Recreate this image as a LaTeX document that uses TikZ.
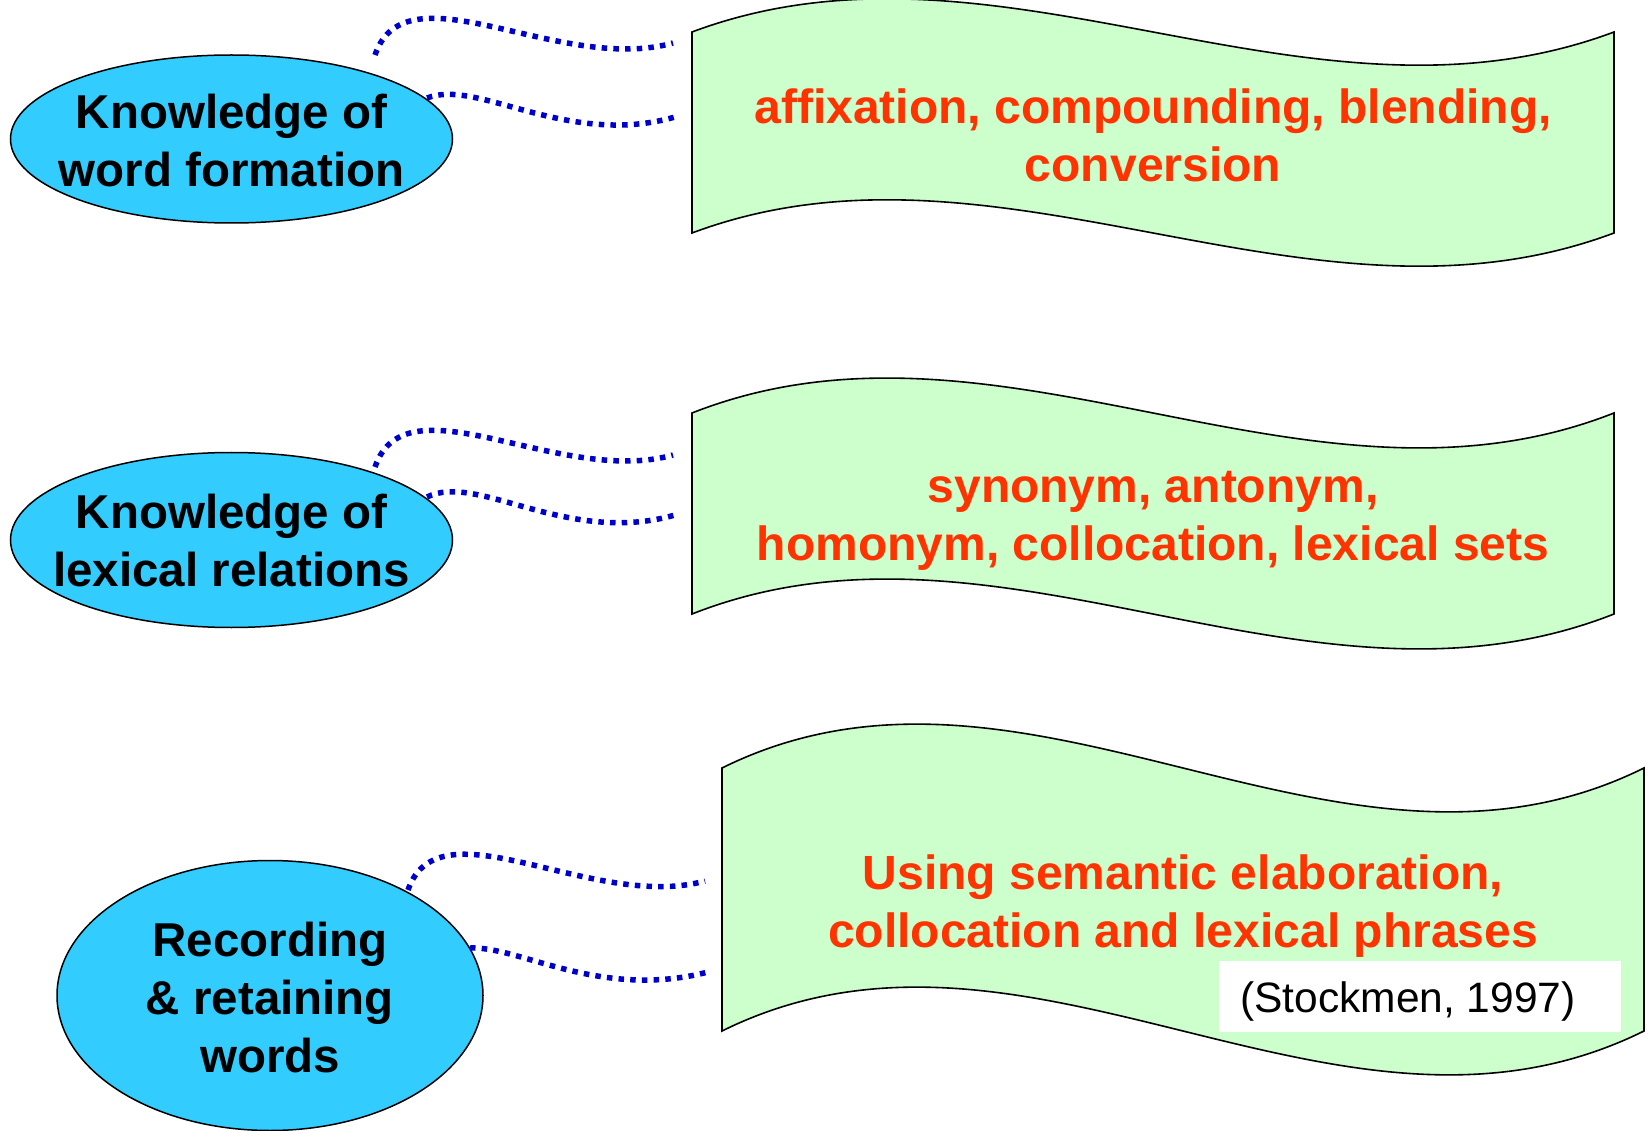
\documentclass[tikz,border=0pt]{standalone}
\usepackage{fontspec}
\setmainfont{Liberation Sans}
\usetikzlibrary{shapes.geometric}
\definecolor{ovalblue}{RGB}{51,204,255}
\definecolor{wavegreen}{RGB}{204,255,204}
\definecolor{redtext}{RGB}{255,51,0}
\definecolor{dotblue}{RGB}{0,0,204}
\tikzset{
  ovalbox/.style={ellipse, draw=black, line width=1.5pt, fill=ovalblue, inner sep=0pt},
  ovaltext/.style={align=center, inner sep=0pt, font=\fontsize{47.5}{58}\selectfont\bfseries},
  wavebox/.style={draw=black, line width=1.6pt, fill=wavegreen, line join=miter},
  wavetext/.style={align=center, inner sep=0pt, text=redtext, font=\fontsize{48}{58}\selectfont\bfseries},
  dotline/.style={draw=dotblue, line width=5.5pt, dash pattern=on 5.5pt off 6.2pt},
  citetext/.style={inner sep=0pt, font=\fontsize{42.5}{50}\selectfont}
}
\begin{document}
\begin{tikzpicture}[x=1pt,y=-1pt]
\useasboundingbox (0,0) rectangle (1650,1131);
% waves
\draw[wavebox] (692,32) .. controls (999.3,-83) and (1306.7,147) .. (1614,32)
  -- (1614,233) .. controls (1306.7,348) and (999.3,118) .. (692,233) -- cycle;
\draw[wavebox] (692,413) .. controls (999.3,292) and (1306.7,534) .. (1614,413)
  -- (1614,614) .. controls (1306.7,735) and (999.3,493) .. (692,614) -- cycle;
\draw[wavebox] (722,768) .. controls (1029.3,616) and (1336.7,920) .. (1644,768)
  -- (1644,1031) .. controls (1336.7,1183) and (1029.3,879) .. (722,1031) -- cycle;
% citation box
\fill[white] (1219,961) rectangle (1621,1032);
\node[citetext] (cite) at (1408,1001) {(Stockmen, 1997)};
% wave texts
\node[wavetext] (w1) at (1153,135) {affixation, compounding, blending,\\conversion};
\node[wavetext] (w2) at (1153,521) {synonym, antonym,\\homonym, collocation, lexical sets};
\node[wavetext] (w3) at (1183,906) {Using semantic elaboration,\\collocation and lexical phrases};
% ovals
\node[ovalbox, minimum width=442pt, minimum height=168pt] (e1) at (231.5,139) {};
\node[ovaltext] (t1) at ([yshift=-2pt]e1.center) {Knowledge of\\word formation};
\node[ovalbox, minimum width=442pt, minimum height=175pt] (e2) at (231.5,540) {};
\node[ovaltext] (t2) at ([yshift=-1pt]e2.center) {Knowledge of\\lexical relations};
\node[ovalbox, minimum width=426pt, minimum height=270pt] (e3) at (270,995.5) {};
\node[ovaltext] (t3) at ([yshift=-2pt]e3.center) {Recording\\\&~retaining\\words};
% connector end points
\coordinate (s1a) at (375,55);  \coordinate (f1a) at (673,43);
\coordinate (s1b) at (427,98);  \coordinate (f1b) at (675,117);
\coordinate (s2a) at (375,467); \coordinate (f2a) at (673,455);
\coordinate (s2b) at (427,497); \coordinate (f2b) at (675,515);
\coordinate (s3a) at (408,890); \coordinate (f3a) at (705,881);
\coordinate (s3b) at (470,948); \coordinate (f3b) at (708,972);
% dotted connectors
\draw[dotline] (s1a) .. controls (406,-36) and (560,75) .. (f1a);
\draw[dotline] (s1b) .. controls (477,78) and (567,148) .. (f1b);
\draw[dotline] (s2a) .. controls (406,376) and (560,487) .. (f2a);
\draw[dotline] (s2b) .. controls (477,472) and (567,546) .. (f2b);
\draw[dotline] (s3a) .. controls (439,800) and (593,912) .. (f3a);
\draw[dotline] (s3b) .. controls (520,946) and (600,1000) .. (f3b);
\end{tikzpicture}
\end{document}
